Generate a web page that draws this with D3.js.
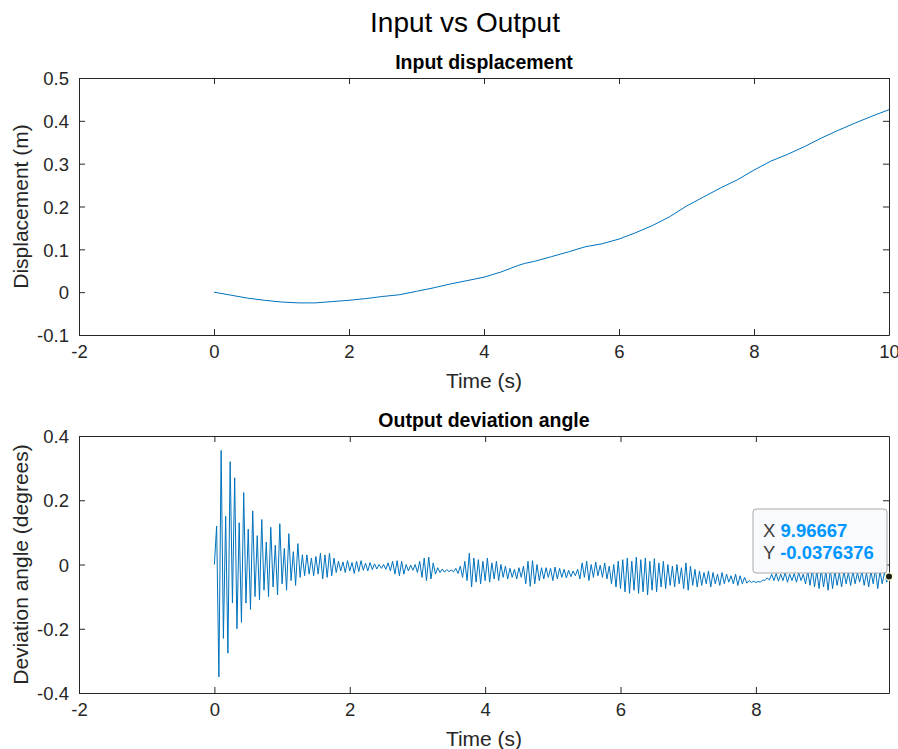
<!DOCTYPE html>
<html lang="en">
<head>
<meta charset="UTF-8">
<title>Input vs Output</title>
<script src="https://cdn.jsdelivr.net/npm/d3@7"></script>
<style>
  body { margin: 0; background: #fff; }
  svg { display: block; font-family: "Liberation Sans", Arial, Helvetica, sans-serif; }
</style>
</head>
<body>
<svg id="chart" width="898" height="749"></svg>
<script>
// input displacement (m)
var inputTime = [0, 0.25, 0.5, 0.75, 1, 1.25, 1.5, 1.75, 2, 2.25, 2.5, 2.75, 3, 3.25, 3.5, 3.75, 4,
  4.25, 4.5, 4.6, 4.75, 5, 5.25, 5.5, 5.75, 6, 6.25, 6.5, 6.75, 7, 7.25, 7.5, 7.75, 8, 8.25, 8.5,
  8.75, 9, 9.25, 9.5, 9.75, 10];
var inputDisp = [0, -0.007, -0.014, -0.019, -0.023, -0.025, -0.025, -0.022, -0.019, -0.015, -0.010,
  -0.006, 0.002, 0.010, 0.019, 0.027, 0.035, 0.047, 0.062, 0.067, 0.072, 0.083, 0.094, 0.106, 0.113,
  0.124, 0.139, 0.156, 0.176, 0.201, 0.222, 0.243, 0.262, 0.285, 0.306, 0.322, 0.340, 0.360, 0.378,
  0.395, 0.411, 0.426];

// output deviation angle (degrees), one sample every 1/30 s from t = 0
var sampleStep = 1 / 30;
var outputAngle = [
  0, 0.12, -0.35, 0.355, -0.23, 0.15, -0.276, 0.32, -0.12, 0.27,
  -0.20, 0.13, -0.18, 0.224, -0.12, 0.11, -0.14, 0.167, -0.10, 0.09,
  -0.11, 0.14, -0.08, 0.07, -0.10, 0.116, -0.07, 0.06, -0.095, 0.127,
  -0.06, 0.05, -0.08, 0.096, -0.05, 0.04, -0.065, 0.065, -0.04, 0.03,
  -0.035, 0.03, -0.03, 0.02, -0.035, 0.025, -0.03, 0.035, -0.045, 0.03,
  -0.04, 0.035, -0.035, 0.02, -0.025, 0.01, -0.02, 0.008, -0.025, 0.012,
  -0.02, 0.006, -0.028, 0.01, -0.022, 0.012, -0.018, 0.004, -0.02, 0.006,
  -0.016, 0.002, -0.014, 0, -0.012, 0, -0.015, 0.005, -0.02, 0.01,
  -0.03, 0.012, -0.035, 0.01, -0.03, 0, -0.02, -0.002, -0.018, 0,
  -0.025, 0.01, -0.04, 0.02, -0.05, 0.023, -0.045, 0.005, -0.03, -0.01,
  -0.025, -0.014, -0.024, -0.016, -0.022, -0.017, -0.023, -0.012, -0.028, -0.005,
  -0.04, 0.01, -0.05, 0.035, -0.07, 0.02, -0.055, 0.015, -0.06, 0.01,
  -0.05, 0.02, -0.055, 0.005, -0.045, 0.01, -0.05, 0, -0.04, -0.005,
  -0.045, -0.012, -0.04, -0.015, -0.045, -0.01, -0.04, -0.005, -0.06, 0.01,
  -0.068, 0.012, -0.06, 0, -0.05, -0.01, -0.045, -0.01, -0.04, -0.012,
  -0.05, -0.008, -0.045, -0.012, -0.04, -0.015, -0.042, -0.018, -0.038, -0.02,
  -0.035, -0.015, -0.045, 0.005, -0.04, 0.01, -0.05, 0, -0.04, 0.008,
  -0.035, -0.002, -0.04, 0.005, -0.045, -0.005, -0.06, 0, -0.07, 0.01,
  -0.075, 0.015, -0.085, 0.02, -0.09, 0.01, -0.08, 0.023, -0.09, 0.015,
  -0.085, 0.02, -0.095, 0.01, -0.08, 0.018, -0.085, 0.005, -0.07, 0.01,
  -0.075, 0, -0.065, -0.005, -0.07, 0, -0.06, -0.01, -0.075, 0.005,
  -0.08, -0.005, -0.065, -0.015, -0.07, -0.02, -0.065, -0.025, -0.06, -0.02,
  -0.07, -0.025, -0.06, -0.03, -0.065, -0.025, -0.06, -0.03, -0.055, -0.035,
  -0.06, -0.03, -0.065, -0.035, -0.06, -0.04, -0.058, -0.05, -0.056, -0.052,
  -0.056, -0.053, -0.055, -0.048, -0.05, -0.042, -0.048, -0.03, -0.05, -0.028,
  -0.052, -0.03, -0.05, -0.025, -0.055, -0.03, -0.05, -0.028, -0.055, -0.025,
  -0.05, -0.03, -0.06, -0.02, -0.065, -0.015, -0.07, -0.02, -0.075, -0.015,
  -0.07, -0.02, -0.08, -0.015, -0.075, -0.02, -0.065, -0.025, -0.07, -0.02,
  -0.06, -0.025, -0.065, -0.02, -0.06, -0.025, -0.055, -0.02, -0.065, -0.025,
  -0.07, -0.02, -0.06, -0.015, -0.075, -0.02, -0.06, -0.025, -0.055, -0.0376376
];

var topXTicks = [-2, 0, 2, 4, 6, 8, 10];
var topYTicks = [-0.1, 0, 0.1, 0.2, 0.3, 0.4, 0.5];
var botXTicks = [-2, 0, 2, 4, 6, 8];
var botYTicks = [-0.4, -0.2, 0, 0.2, 0.4];

var lineColor = "#0072BD";
var axisColor = "#262626";

var svg = d3.select("#chart");

var inputData = inputTime.map(function(t, i) { return { x: t, y: inputDisp[i] }; });
var outputData = outputAngle.map(function(v, i) { return { x: i * sampleStep, y: v }; });
var lastT = (outputAngle.length - 1) * sampleStep;

svg.append("text")
  .attr("x", 465).attr("y", 32)
  .attr("text-anchor", "middle")
  .attr("font-size", 28)
  .attr("fill", "#000")
  .text("Input vs Output");

// matlab style labels: plain hyphen for minus
function fmt(d) { return String(+d.toFixed(6)); }

function drawPanel(opt) {
  var x = d3.scaleLinear().domain(opt.xDomain).range([opt.left, opt.right]);
  var y = d3.scaleLinear().domain(opt.yDomain).range([opt.bottom, opt.top]);
  var g = svg.append("g");

  g.append("path")
    .datum(opt.data)
    .attr("fill", "none")
    .attr("stroke", lineColor)
    .attr("stroke-width", 1)
    .attr("d", d3.line().x(function(d) { return x(d.x); }).y(function(d) { return y(d.y); }));

  var bottomAxis = g.append("g")
    .attr("transform", "translate(0," + opt.bottom + ")")
    .call(d3.axisBottom(x).tickValues(opt.xTicks).tickFormat(fmt).tickSizeInner(-6).tickSizeOuter(0).tickPadding(10));
  var topAxis = g.append("g")
    .attr("transform", "translate(0," + opt.top + ")")
    .call(d3.axisTop(x).tickValues(opt.xTicks).tickFormat("").tickSizeInner(-6).tickSizeOuter(0));
  var leftAxis = g.append("g")
    .attr("transform", "translate(" + opt.left + ",0)")
    .call(d3.axisLeft(y).tickValues(opt.yTicks).tickFormat(fmt).tickSizeInner(-6).tickSizeOuter(0).tickPadding(10));
  var rightAxis = g.append("g")
    .attr("transform", "translate(" + opt.right + ",0)")
    .call(d3.axisRight(y).tickValues(opt.yTicks).tickFormat("").tickSizeInner(-6).tickSizeOuter(0));

  [bottomAxis, topAxis, leftAxis, rightAxis].forEach(function(a) {
    a.attr("font-family", null).attr("font-size", 18.5);
    a.select(".domain").attr("stroke", axisColor);
    a.selectAll(".tick line").attr("stroke", axisColor);
    a.selectAll(".tick text").attr("fill", axisColor);
  });
  leftAxis.selectAll(".tick text").attr("dy", "0.36em");

  g.append("text")
    .attr("x", (opt.left + opt.right) / 2).attr("y", opt.top - 9)
    .attr("text-anchor", "middle")
    .attr("font-size", 19.5).attr("font-weight", "bold")
    .attr("fill", "#000")
    .text(opt.title);

  g.append("text")
    .attr("x", (opt.left + opt.right) / 2).attr("y", opt.bottom + 53)
    .attr("text-anchor", "middle")
    .attr("font-size", 21)
    .attr("fill", axisColor)
    .text("Time (s)");

  g.append("text")
    .attr("transform", "translate(28," + (opt.top + opt.bottom) / 2 + ") rotate(-90)")
    .attr("text-anchor", "middle")
    .attr("font-size", 21)
    .attr("fill", axisColor)
    .text(opt.yLabel);

  return { x: x, y: y, g: g };
}

drawPanel({
  left: 79, right: 889, top: 78, bottom: 335,
  xDomain: [-2, 10], yDomain: [-0.1, 0.5],
  xTicks: topXTicks, yTicks: topYTicks,
  data: inputData,
  title: "Input displacement",
  yLabel: "Displacement (m)"
});

var bot = drawPanel({
  left: 79, right: 889, top: 436, bottom: 693,
  xDomain: [-2, lastT], yDomain: [-0.4, 0.4],
  xTicks: botXTicks, yTicks: botYTicks,
  data: outputData,
  title: "Output deviation angle",
  yLabel: "Deviation angle (degrees)"
});

// datatip on the last sample
var last = outputData[outputData.length - 1];
var tipX = bot.x(last.x), tipY = bot.y(last.y);
var tip = svg.append("g");
tip.append("rect")
  .attr("x", 753).attr("y", 509)
  .attr("width", 134).attr("height", 64)
  .attr("rx", 3)
  .attr("fill", "#f9fafd")
  .attr("stroke", "#a8a8a8")
  .attr("stroke-width", 1);
var rows = [["X", d3.format(".6~g")(last.x)], ["Y", String(last.y)]];
rows.forEach(function(r, i) {
  var t = tip.append("text")
    .attr("x", 763).attr("y", 537 + i * 22)
    .attr("font-size", 18.5);
  t.append("tspan").attr("fill", "#404040").text(r[0] + " ");
  t.append("tspan").attr("fill", "#0096ff").attr("font-weight", "bold").text(r[1]);
});
tip.append("circle")
  .attr("cx", tipX).attr("cy", tipY).attr("r", 3.6)
  .attr("fill", "#1a1a1a")
  .attr("stroke", "#ffffc8").attr("stroke-width", 1.2);
</script>
</body>
</html>
